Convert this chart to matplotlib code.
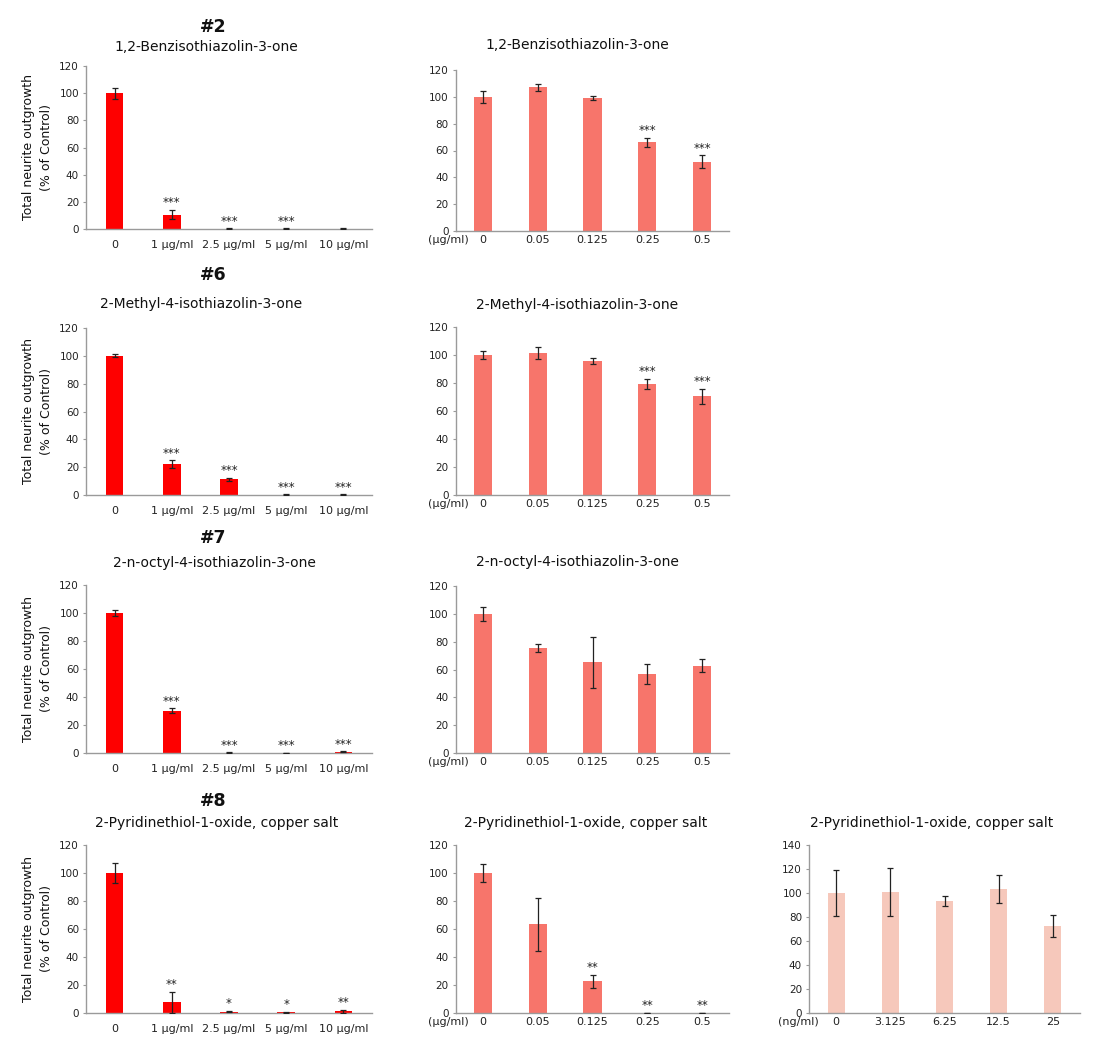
import matplotlib.pyplot as plt
import numpy as np

W, H = 1095, 1042

# x categories
high_labels = ['0', '1 µg/ml', '2.5 µg/ml', '5 µg/ml', '10 µg/ml']
low_labels = ['0', '0.05', '0.125', '0.25', '0.5']
ng_labels = ['0', '3.125', '6.25', '12.5', '25']

# #2  1,2-Benzisothiazolin-3-one
bit_high = [100, 10.5, 0.3, 0.3, 0.3]
bit_high_err = [4, 3.5, 0.2, 0.2, 0.2]
bit_high_sig = ['', '***', '***', '***', '']
bit_low = [100, 107, 98.8, 66, 51.8]
bit_low_err = [4.5, 2.3, 1.5, 3.3, 4.5]
bit_low_sig = ['', '', '', '***', '***']

# #6  2-Methyl-4-isothiazolin-3-one
mit_high = [100, 22.3, 11.3, 0.3, 0.3]
mit_high_err = [1, 2.6, 1.2, 0.2, 0.2]
mit_high_sig = ['', '***', '***', '***', '***']
mit_low = [100, 101.4, 95.7, 79.2, 70.4]
mit_low_err = [3, 4, 2, 3.8, 5.5]
mit_low_sig = ['', '', '', '***', '***']

# #7  2-n-octyl-4-isothiazolin-3-one
oit_high = [100, 30.2, 0.3, 0.2, 0.8]
oit_high_err = [2.3, 1.7, 0.2, 0.1, 0.4]
oit_high_sig = ['', '***', '***', '***', '***']
oit_low = [100, 75.6, 65.2, 56.8, 62.8]
oit_low_err = [4.8, 2.7, 18.5, 7.4, 4.5]
oit_low_sig = ['', '', '', '', '']

# #8  2-Pyridinethiol-1-oxide, copper salt
cup_high = [100, 7.6, 1.0, 0.6, 1.3]
cup_high_err = [7, 7.6, 0.5, 0.4, 1.0]
cup_high_sig = ['', '**', '*', '*', '**']
cup_low = [100, 63.4, 22.6, 0.2, 0.2]
cup_low_err = [6.4, 19, 4.7, 0.1, 0.1]
cup_low_sig = ['', '', '**', '**', '**']
cup_ng = [100, 100.6, 93.4, 103.4, 72.6]
cup_ng_err = [19, 20, 4.2, 11.6, 9.2]
cup_ng_sig = ['', '', '', '', '']

RED = '#fe0000'
SALMON = '#f7756b'
PINK = '#f6c8bb'
AXC = '#9a9a9a'


def rect(l, t, r, b):
    return [l / W, 1 - b / H, (r - l) / W, (b - t) / H]


def panel(box, labels, vals, errs, sig, color, width, ymax=120, xpad=8, unit=None, unit_dx=0):
    ax = fig.add_axes(rect(*box))
    x = np.arange(len(vals))
    ax.bar(x, vals, width=width, color=color, zorder=2)
    ax.errorbar(x, vals, yerr=errs, fmt='none', ecolor='#222222',
                elinewidth=0.9, capsize=2.2, capthick=0.9, zorder=3)
    for xi, v, e, s in zip(x, vals, errs, sig):
        if s:
            ax.annotate(s, (xi, v + e), xytext=(0, 0.5), textcoords='offset points',
                        ha='center', va='bottom', fontsize=8.5, color='#222222')
    ax.set_xlim(-0.5, len(vals) - 0.5)
    ax.set_ylim(0, ymax)
    ax.set_yticks(np.arange(0, ymax + 1, 20))
    ax.set_xticks(x)
    ax.set_xticklabels(labels)
    for sp in ['top', 'right']:
        ax.spines[sp].set_visible(False)
    for sp in ['left', 'bottom']:
        ax.spines[sp].set_color(AXC)
        ax.spines[sp].set_linewidth(1.0)
    ax.tick_params(axis='y', length=2.5, width=0.8, color=AXC, pad=2.5,
                   labelsize=7.5, labelcolor='#222222')
    ax.tick_params(axis='x', length=0, pad=xpad, labelsize=8, labelcolor='#222222')
    if unit:
        ax.annotate(unit, (0, 0), xycoords='axes fraction', xytext=(unit_dx * 0.72, -3),
                    textcoords='offset points', ha='center', va='top', fontsize=8,
                    color='#222222')
    return ax


def ftext(x, y, s, **kw):
    fig.text(x / W, 1 - y / H, s, ha='center', va='center', color='#111111', **kw)


fig = plt.figure(figsize=(W / 100, H / 100), dpi=100)

LEFT = (86, 372)
MID = (455.6, 729.4)
RIGHT = (809, 1080)

ylab = 'Total neurite outgrowth\n(% of Control)'

rows = [
    ('#2', '1,2-Benzisothiazolin-3-one', (bit_high, bit_high_err, bit_high_sig),
     (bit_low, bit_low_err, bit_low_sig), (66, 229), (70, 231), 27, 47, 45, 206, 577),
    ('#6', '2-Methyl-4-isothiazolin-3-one', (mit_high, mit_high_err, mit_high_sig),
     (mit_low, mit_low_err, mit_low_sig), (328, 495), (327, 495), 275, 304, 305, 201, 577),
    ('#7', '2-n-octyl-4-isothiazolin-3-one', (oit_high, oit_high_err, oit_high_sig),
     (oit_low, oit_low_err, oit_low_sig), (585, 753), (586, 753), 538, 563, 562, 214, 577),
    ('#8', '2-Pyridinethiol-1-oxide, copper salt', (cup_high, cup_high_err, cup_high_sig),
     (cup_low, cup_low_err, cup_low_sig), (845, 1013), (845, 1013), 801, 823, 823, 217, 586),
]

for tag, name, hi, lo, ly, my, ty, sy, my_t, sx, mx in rows:
    panel((LEFT[0], ly[0], LEFT[1], ly[1]), high_labels, *hi, RED, 0.31, xpad=8)
    panel((MID[0], my[0], MID[1], my[1]), low_labels, *lo, SALMON, 0.33, xpad=3,
          unit='(µg/ml)', unit_dx=-7)
    ftext(213, ty, tag, fontsize=12.5, fontweight='bold')
    ftext(sx, sy, name, fontsize=10)
    ftext(mx, my_t, name, fontsize=10)
    ftext(37.5, (ly[0] + ly[1]) / 2, ylab, fontsize=9, rotation=90,
          linespacing=1.45, multialignment='center')

panel((RIGHT[0], 845, RIGHT[1], 1013), ng_labels, cup_ng, cup_ng_err, cup_ng_sig,
      PINK, 0.31, ymax=140, xpad=3, unit='(ng/ml)', unit_dx=-11)
ftext(932, 823, '2-Pyridinethiol-1-oxide, copper salt', fontsize=10)

fig.savefig('out.png', dpi=100, facecolor='white')
